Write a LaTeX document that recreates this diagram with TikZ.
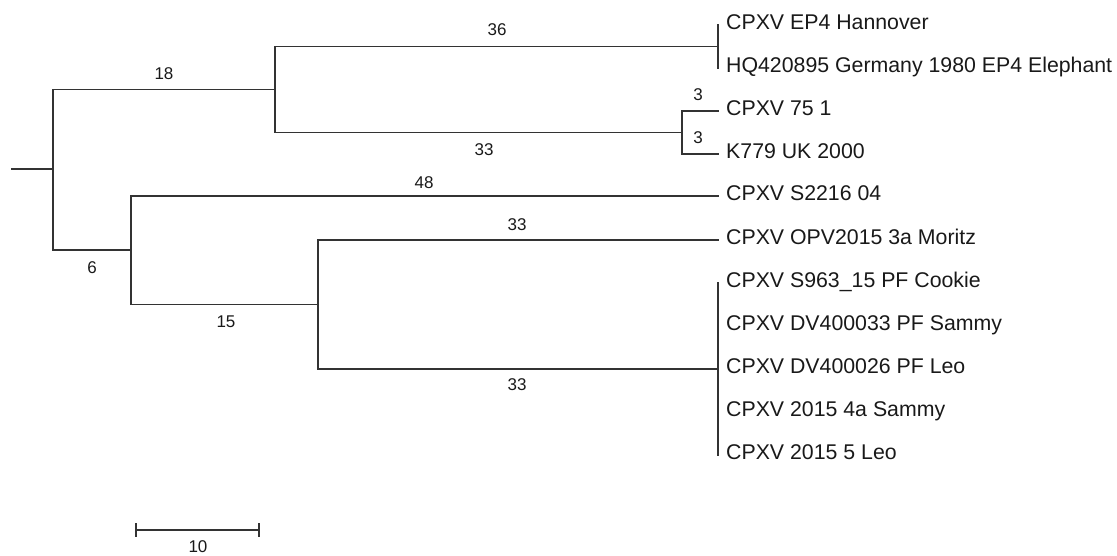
\documentclass[tikz,border=0pt]{standalone}
\usepackage{fontspec}
\setmainfont{Liberation Sans}
\begin{document}
\begin{tikzpicture}[x=1pt,y=-1pt,
  br/.style={line width=1.4pt, draw=black!80, line cap=rect},
  leaf/.style={anchor=base west, inner sep=0pt, font=\fontsize{21.3}{21.3}\selectfont, text=black!90},
  blen/.style={inner sep=0pt, font=\fontsize{17}{17}\selectfont, text=black!90}]
\path[use as bounding box] (0,0) rectangle (1117,555);
% tips
\coordinate (t1) at (718,25);
\coordinate (t2) at (718,68);
\coordinate (t3) at (718,111);
\coordinate (t4) at (718,154);
\coordinate (t5) at (718,196);
\coordinate (t6) at (718,240);
\coordinate (t7) at (718,283);
\coordinate (t8) at (718,326);
\coordinate (t9) at (718,369);
\coordinate (t10) at (718,412);
\coordinate (t11) at (718,455);
% internal nodes
\coordinate (C) at (718,46.5);
\coordinate (D) at (682,132.5);
\coordinate (A) at (275,89.5);
\coordinate (F) at (718,369);
\coordinate (E) at (318,304.5);
\coordinate (B) at (131,250);
\coordinate (R) at (53,169);
\coordinate (R0) at (12,169);
% branches
\draw[br] (R0) -- (R);
\draw[br] (R) |- (A);
\draw[br] (R) |- (B);
\draw[br] (A) |- (C);
\draw[br] (A) |- (D);
\draw[br] (C) |- (t1);
\draw[br] (C) |- (t2);
\draw[br] (D) |- (t3);
\draw[br] (D) |- (t4);
\draw[br] (B) |- (t5);
\draw[br] (B) |- (E);
\draw[br] (E) |- (t6);
\draw[br] (E) |- (F);
\draw[br] (F) |- (t7);
\draw[br] (F) |- (t11);
% leaf labels
\node[leaf] (l1) at (726,29.5) {CPXV EP4 Hannover};
\node[leaf] (l2) at (726,72.5) {HQ420895 Germany 1980 EP4 Elephant};
\node[leaf] (l3) at (726,115.5) {CPXV 75 1};
\node[leaf] (l4) at (726,158.5) {K779 UK 2000};
\node[leaf] (l5) at (726,200.5) {CPXV S2216 04};
\node[leaf] (l6) at (726,244.5) {CPXV OPV2015 3a Moritz};
\node[leaf] (l7) at (726,287.5) {CPXV S963\_15 PF Cookie};
\node[leaf] (l8) at (726,330.5) {CPXV DV400033 PF Sammy};
\node[leaf] (l9) at (726,373.5) {CPXV DV400026 PF Leo};
\node[leaf] (l10) at (726,416.5) {CPXV 2015 4a Sammy};
\node[leaf] (l11) at (726,459.5) {CPXV 2015 5 Leo};
% branch lengths
\node[blen] (b18) at (164,74) {18};
\node[blen] (b36) at (497,30) {36};
\node[blen] (b33a) at (484,150) {33};
\node[blen] (b3a) at (698,95) {3};
\node[blen] (b3b) at (698,138) {3};
\node[blen] (b48) at (424,183) {48};
\node[blen] (b6) at (92,268) {6};
\node[blen] (b15) at (226,322) {15};
\node[blen] (b33b) at (517,225) {33};
\node[blen] (b33c) at (517,385) {33};
% scale bar
\coordinate (s1) at (136,530);
\coordinate (s2) at (259,530);
\draw[br, line cap=butt] (s1) -- (s2);
\draw[br, line cap=butt] ([yshift=7pt]s1) -- ([yshift=-7pt]s1);
\draw[br, line cap=butt] ([yshift=7pt]s2) -- ([yshift=-7pt]s2);
\node[blen] (s10) at (198,547) {10};
\end{tikzpicture}
\end{document}
